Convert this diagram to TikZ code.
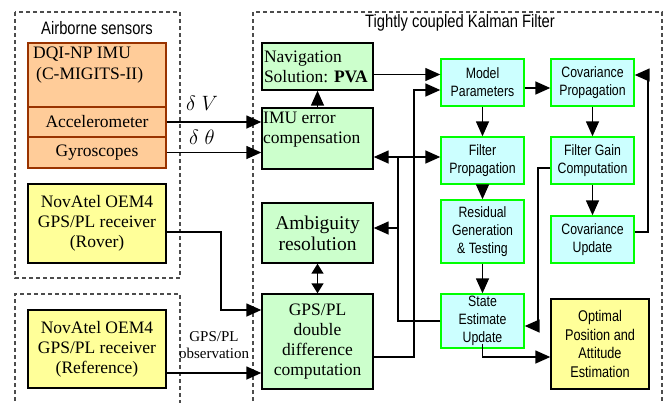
\documentclass[tikz,border=0pt]{standalone}
\usepackage{fontspec}
\setmainfont{Liberation Serif}
\newfontfamily\narrowsf[FakeStretch=0.82]{Liberation Sans}
\usepackage{tikz}
\usetikzlibrary{arrows.meta}

\definecolor{imuorange}{HTML}{FFCC99}
\definecolor{imubrown}{HTML}{993300}
\definecolor{rcvyellow}{HTML}{FFFF99}
\definecolor{procgreen}{HTML}{CCFFCC}
\definecolor{kfcyan}{HTML}{CCFFFF}
\definecolor{kfgreen}{HTML}{00FF00}

\begin{document}
\begin{tikzpicture}[x=1pt, y=-1pt,
    blk/.style={draw, line width=1.4pt, align=center, inner sep=2pt,
                minimum width=111pt, font=\fontsize{17.5}{20}\selectfont},
    sensor/.style={blk, draw=imubrown, fill=imuorange, minimum width=138pt},
    rcv/.style={blk, fill=rcvyellow, minimum width=138pt},
    proc/.style={blk, fill=procgreen},
    kf/.style={blk, draw=kfgreen, fill=kfcyan, minimum width=83pt,
               font=\narrowsf\fontsize{15}{18}\selectfont},
    res/.style={blk, fill=rcvyellow, minimum width=98pt,
                font=\narrowsf\fontsize{15.5}{18.5}\selectfont},
    grp/.style={draw=black!70, line width=1.1pt, dash pattern=on 4pt off 3pt},
    ttl/.style={font=\narrowsf\fontsize{18}{20}\selectfont},
    arr/.style={-{Triangle[length=15pt, width=13pt]}, line width=1.5pt},
    biarr/.style={{Triangle[length=10pt, width=12pt]}-{Triangle[length=10pt, width=12pt]}, line width=1.5pt}
  ]
  \useasboundingbox (0,0) rectangle (668,402);

  % ---------------- groups ----------------
  \draw[grp] (15,12) rectangle (180,278);
  \draw[grp] (15,408) -- (15,294) -- (180,294) -- (180,408);
  \draw[grp] (253,408) -- (253,12) -- (662,12) -- (662,408);
  \node[ttl] (airttl) at (97,28) {Airborne sensors};
  \node[ttl] (kfttl)  at (460,23) {Tightly coupled Kalman Filter};

  % ---------------- sensors ----------------
  \node[sensor, minimum height=64pt] (imu)  at (97,75)    {};
  \node[anchor=north west, align=left, inner sep=0pt, font=\fontsize{17.5}{21}\selectfont]
    (imutext) at (33,47) {DQI-NP IMU\\\hspace{3pt}(C-MIGITS-II)};
  \node[sensor, minimum height=30pt] (acc)  at (97,122)   {Accelerometer};
  \node[sensor, minimum height=31pt] (gyro) at (97,152.5) {Gyroscopes};
  \node[rcv, minimum height=79pt] (rover) at (97,223.5) {NovAtel OEM4\\GPS/PL receiver\\(Rover)};
  \node[rcv, minimum height=78pt] (ref)   at (97,349)   {NovAtel OEM4\\GPS/PL receiver\\(Reference)};

  % ---------------- processing ----------------
  \node[proc, minimum height=47pt, align=left, text width=107pt] (nav) at (317.5,66.5)
    {Navigation\\Solution:~\textbf{PVA}};
  \node[proc, minimum height=61pt] (imuerr) at (317.5,138.5) {};
  \node[anchor=north west, align=left, inner sep=0pt, font=\fontsize{17.5}{20}\selectfont]
    (imuerrtext) at (263,112) {IMU error\\compensation};
  \node[proc, minimum height=60pt, font=\fontsize{19.5}{21}\selectfont] (amb) at (317.5,233) {Ambiguity\\resolution};
  \node[proc, minimum height=95pt] (dd) at (317.5,341.5) {GPS/PL\\double\\difference\\computation};

  % ---------------- Kalman filter ----------------
  \node[kf, minimum height=47pt] (model)    at (482.5,82.5)  {Model\\Parameters};
  \node[kf, minimum height=47pt] (covprop)  at (592.5,82.5)  {Covariance\\Propagation};
  \node[kf, minimum height=47pt] (filtprop) at (482.5,160.5) {Filter\\Propagation};
  \node[kf, minimum height=47pt] (gain)     at (592.5,160.5) {Filter Gain\\Computation};
  \node[kf, minimum height=63pt] (resid)    at (482.5,231.5) {Residual\\Generation\\\& Testing};
  \node[kf, minimum height=47pt] (covupd)   at (592.5,239.5) {Covariance\\Update};
  \node[kf, minimum height=54pt] (state)    at (482.5,321)   {State\\Estimate\\Update};
  \node[res, minimum height=90pt] (optimal) at (600,344)     {Optimal\\Position and\\Attitude\\Estimation};

  % ---------------- connectors ----------------
  \draw[arr] (acc.east) -- (acc.east -| imuerr.west);
  \draw[arr] (gyro.east) -- (gyro.east -| imuerr.west);
  \node[font=\fontsize{22}{22}\selectfont] (dv)  at (202,103) {$\delta\;V$};
  \node[font=\fontsize{22}{22}\selectfont] (dth) at (202,137) {$\delta\;\theta$};
  \draw[arr] (imuerr) -- (nav);

  \coordinate (navout) at ([yshift=-8pt]nav.east);
  \draw[arr, line width=1.1pt] (navout) -- (navout -| model.west);
  \coordinate (ddout) at ([yshift=-15.5pt]dd.east);
  \coordinate (modelin) at ([yshift=-7.5pt]model.west);
  \draw[arr] (ddout) -| (414,90) -- (modelin);

  \coordinate (fb) at (398,157);
  \draw[line width=1.5pt] (state.west) -| (fb);
  \draw[arr] (fb) -- (fb -| imuerr.east);
  \draw[arr] (fb) -- (fb -| filtprop.west);
  \coordinate (ambin) at ([yshift=5pt]amb.east);
  \draw[arr] (fb |- ambin) -- (ambin);
  \draw[biarr] (amb) -- (dd);

  \coordinate (roverout) at ([yshift=-8.5pt]rover.east);
  \coordinate (ddin1) at ([yshift=31.5pt]dd.west);
  \draw[arr] (roverout) -| (221,310) -- (ddin1);
  \coordinate (refout) at ([yshift=-24pt]ref.east);
  \draw[arr] (refout) -- (refout -| dd.west);
  \node[align=center, font=\fontsize{15}{17.5}\selectfont] (obs) at (214,345) {GPS/PL\\observation};

  \coordinate (modelout) at ([yshift=-5.5pt]model.east);
  \draw[arr] (modelout) -- (modelout -| covprop.west);
  \draw[arr] (model) -- (filtprop);
  \draw[arr] (covprop) -- (gain);
  \draw[arr] (filtprop) -- (resid);
  \draw[arr] (gain) -- (covupd);
  \draw[arr] (resid) -- (state);

  \coordinate (covupdout) at ([yshift=7.5pt]covupd.east);
  \coordinate (covpropin) at ([yshift=7.5pt]covprop.east);
  \draw[arr] (covupdout) -| (648,75) -- (covpropin);
  \coordinate (gainout) at ([yshift=-7.5pt]gain.west);
  \coordinate (statein) at ([yshift=-5pt]state.east);
  \draw[arr] (gainout) -| (538,326) -- (statein);
  \coordinate (stateout) at ([yshift=5pt]state.south);
  \draw[arr] (stateout) |- (optimal.west |- 0,357);
\end{tikzpicture}
\end{document}
